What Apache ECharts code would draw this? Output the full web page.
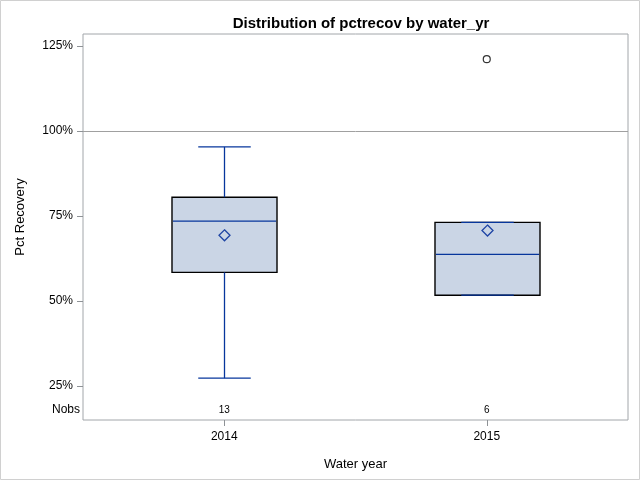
<!DOCTYPE html>
<html>
<head>
<meta charset="utf-8">
<script src="https://cdn.jsdelivr.net/npm/echarts@6/dist/echarts.min.js"></script>
<style>
html,body{margin:0;padding:0;background:#fff;}
#chart{width:640px;height:480px;}
</style>
</head>
<body>
<div id="chart"></div>
<script>
const categories = ['2014', '2015'];
const minVals = [27.3, 51.7];
const q1Vals = [58.4, 51.7];
const medianVals = [73.5, 63.7];
const q3Vals = [80.5, 73.1];
const maxVals = [95.3, 73.1];
const meanVals = [69.3, 70.7];
const nobs = [13, 6];
const outlierCat = [1];
const outlierVals = [121.1];
const yTicks = [25, 50, 75, 100, 125];
const refLineValue = 100;

const FONT = 'Liberation Sans, Arial, sans-serif';
const BOX_W = 0.4, CAP_W = 0.2;
const BLUE = '#07369C';

const boxData = categories.map((c, i) => [i, minVals[i], q1Vals[i], medianVals[i], q3Vals[i], maxVals[i], meanVals[i]]);
const outlierData = outlierCat.map((c, i) => [c, outlierVals[i]]);
const nobsData = categories.map((c, i) => [i, nobs[i]]);

const chart = echarts.init(document.getElementById('chart'), null, {renderer: 'canvas'});

function renderBox(params, api) {
  const x = api.value(0);
  const vmin = api.value(1), q1 = api.value(2), med = api.value(3), q3 = api.value(4), vmax = api.value(5), mean = api.value(6);
  const bw = api.size([BOX_W, 0])[0];
  const cw = api.size([CAP_W, 0])[0];
  const pQ1 = api.coord([x, q1]);
  const pQ3 = api.coord([x, q3]);
  const pMed = api.coord([x, med]);
  const pMin = api.coord([x, vmin]);
  const pMax = api.coord([x, vmax]);
  const pMean = api.coord([x, mean]);
  const cx = Math.round(pQ1[0]) + 0.5;
  const lineStyle = {stroke: BLUE, lineWidth: 1.3, fill: null};
  const children = [
    {type: 'rect', shape: {x: cx - bw / 2, y: pQ3[1], width: bw, height: pQ1[1] - pQ3[1]},
     style: {fill: '#CAD5E5', stroke: '#000', lineWidth: 1.4}},
    {type: 'line', shape: {x1: cx, y1: pQ3[1], x2: cx, y2: pMax[1]}, style: lineStyle},
    {type: 'line', shape: {x1: cx, y1: pQ1[1], x2: cx, y2: pMin[1]}, style: lineStyle},
    {type: 'line', shape: {x1: cx - cw / 2, y1: pMax[1], x2: cx + cw / 2, y2: pMax[1]}, style: lineStyle},
    {type: 'line', shape: {x1: cx - cw / 2, y1: pMin[1], x2: cx + cw / 2, y2: pMin[1]}, style: lineStyle},
    {type: 'line', shape: {x1: cx - bw / 2 + 1, y1: pMed[1], x2: cx + bw / 2 - 1, y2: pMed[1]}, style: lineStyle},
    {type: 'polygon', shape: {points: [[cx, pMean[1] - 5.5], [cx + 5.5, pMean[1]], [cx, pMean[1] + 5.5], [cx - 5.5, pMean[1]]]},
     style: {fill: null, stroke: '#1E44A4', lineWidth: 1.3}}
  ];
  return {type: 'group', children: children};
}

function renderNobs(params, api) {
  const x = api.value(0);
  const p = api.coord([x, 15]);
  return {type: 'text', x: p[0], y: p[1] - 9.5,
    style: {text: String(api.value(1)), font: '10px ' + FONT, fill: '#000', align: 'center', verticalAlign: 'middle'}};
}

chart.setOption({
  animation: false,
  backgroundColor: '#fff',
  title: {
    text: 'Distribution of pctrecov by water_yr',
    left: 356, top: 11, textAlign: 'center',
    textStyle: {fontFamily: FONT, fontSize: 15, fontWeight: 'bold', color: '#000'}
  },
  grid: {left: 83, right: 12, top: 34, bottom: 60, show: true, borderColor: '#A2A6AA', borderWidth: 1, containLabel: false},
  xAxis: {
    type: 'value', min: -0.538, max: 1.538, position: 'bottom',
    name: 'Water year', nameLocation: 'middle', nameGap: 38,
    nameTextStyle: {fontFamily: FONT, fontSize: 13, color: '#000'},
    axisLine: {show: false, onZero: false},
    axisTick: {show: true, length: 6, lineStyle: {color: '#8E9296'}, customValues: [0, 1]},
    axisLabel: {customValues: [0, 1], formatter: v => categories[Math.round(v)], margin: 11,
      fontFamily: FONT, fontSize: 12, color: '#000'},
    splitLine: {show: false}
  },
  yAxis: {
    type: 'value', min: 15, max: 128.5, position: 'left',
    axisLine: {show: false, onZero: false},
    axisTick: {show: true, length: 6, lineStyle: {color: '#8E9296'}, customValues: yTicks},
    axisLabel: {customValues: yTicks, formatter: v => v + '%', margin: 10,
      fontFamily: FONT, fontSize: 12, color: '#000'},
    splitLine: {show: false}
  },
  graphic: [
    {type: 'rect', shape: {x: 0.5, y: 0.5, width: 639, height: 479}, style: {fill: null, stroke: '#D0D0D0', lineWidth: 1}, silent: true},
    {type: 'text', x: 20, y: 217, rotation: Math.PI / 2,
     style: {text: 'Pct Recovery', font: '13px ' + FONT, fill: '#000', align: 'center', verticalAlign: 'middle'}},
    {type: 'text', x: 80, y: 410,
     style: {text: 'Nobs', font: '12px ' + FONT, fill: '#000', align: 'right', verticalAlign: 'middle'}}
  ],
  series: [
    {
      type: 'custom', name: 'box', data: boxData, renderItem: renderBox, z: 3,
      encode: {x: 0, y: [1, 2, 3, 4, 5, 6]},
      markLine: {
        silent: true, symbol: 'none', label: {show: false},
        lineStyle: {color: '#A0A0A0', width: 1, type: 'solid'},
        data: [{yAxis: refLineValue}]
      }
    },
    {
      type: 'scatter', name: 'outlier', data: outlierData, symbol: 'circle', symbolSize: 7,
      itemStyle: {color: '#fff', borderColor: '#000', borderWidth: 1.2}, z: 4
    },
    {
      type: 'custom', name: 'nobs', data: nobsData, renderItem: renderNobs, z: 4,
      encode: {x: 0, y: 1}
    }
  ]
});
</script>
</body>
</html>
